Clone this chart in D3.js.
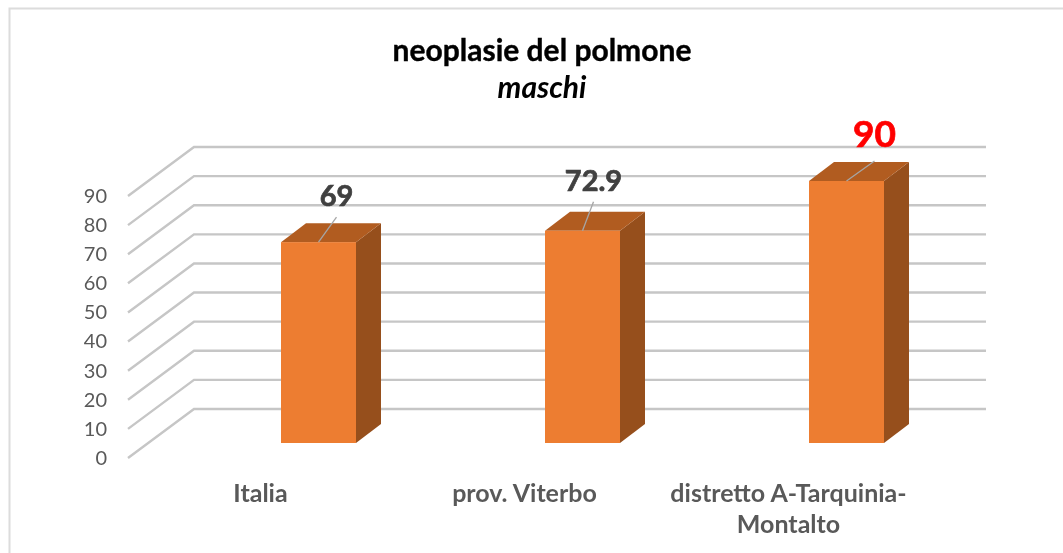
<!DOCTYPE html>
<html>
<head>
<meta charset="utf-8">
<script src="https://cdnjs.cloudflare.com/ajax/libs/d3/7.8.5/d3.min.js"></script>
<style>
  html, body { margin: 0; padding: 0; background: #fff; }
  svg { display: block; filter: blur(0.4px); }
  text { font-family: Lato, "Open Sans", sans-serif; }
</style>
</head>
<body>
<div id="maindiv"></div>
<script>
  ///
  /// Data
  ///
  const categories = ["Italia", "prov. Viterbo", "distretto A-Tarquinia-\nMontalto"];
  const values = [69, 72.9, 90];
  const valueLabels = ["69", "72.9", "90"];
  const yTicks = [0, 10, 20, 30, 40, 50, 60, 70, 80, 90];

  ///
  /// Layout
  ///
  const width = 1063, height = 553;
  const wallDx = 66, wallDy = -49;    // floor depth, front edge to back wall
  const barDx = 25, barDy = -19;      // bar depth
  const floorDy = -15;                // bar front face, from the front edge
  const barWidth = 75;
  const gridRight = 986;

  // where each label sits, relative to the middle of the bar's top front edge
  const labelDx = [18, 11, 28];
  const labelTop = [-25, -29, -20];
  const labelBaseline = [-36, -40, -34];
  const labelSize = [29, 29, 37];
  const labelFill = ["#404040", "#404040", "#ff0000"];

  var svg = d3.select("#maindiv").append("svg")
    .attr("width", width)
    .attr("height", height);

  var y = d3.scaleLinear().domain([0, 90]).range([458, 196]);
  var x = d3.scaleBand().domain(categories).range([186.5, 978.5]);

  ///
  /// Frame
  ///
  svg.append("path")
    .attr("d", `M9.5,${height} V8.5 H${width}`)
    .attr("fill", "none")
    .attr("stroke", "#dcdcdc")
    .attr("stroke-width", 2);

  ///
  /// Grid
  ///
  svg.append("g").selectAll("path")
    .data(yTicks)
    .join("path")
    .attr("d", d => {
      var p = d3.path();
      p.moveTo(128, y(d));
      p.lineTo(128 + wallDx, y(d) + wallDy);
      p.lineTo(gridRight, y(d) + wallDy);
      return p.toString();
    })
    .attr("fill", "none")
    .attr("stroke", "#c6c6c6")
    .attr("stroke-width", 2.4);

  ///
  /// Axes
  ///
  var yAxis = svg.append("g")
    .attr("transform", "translate(107,0)")
    .call(d3.axisLeft(y).tickValues(yTicks).tickSize(0).tickPadding(0));
  yAxis.select(".domain").remove();
  yAxis.selectAll("text")
    .attr("font-size", 20)
    .attr("fill", "#595959")
    .style("font-family", "Lato, sans-serif");

  var xLabels = svg.append("g").selectAll("text")
    .data(categories)
    .join("text")
    .attr("text-anchor", "middle")
    .attr("font-size", 25)
    .attr("font-weight", 700)
    .attr("fill", "#595959");
  xLabels.each(function(d) {
    d3.select(this).selectAll("tspan")
      .data(d.split("\n"))
      .join("tspan")
      .attr("x", x(d) + x.bandwidth() / 2 - 58)
      .attr("y", (t, i) => 502 + i * 31)
      .text(t => t);
  });

  ///
  /// Bars
  ///
  var bars = svg.append("g").selectAll("g")
    .data(values)
    .join("g");

  const barLeft = i => x(categories[i]) + x.bandwidth() / 2 - barWidth / 2;
  const barTop = v => y(v) + floorDy;
  const base = y(0) + floorDy;

  bars.append("path")
    .attr("fill", "#964f1c")
    .attr("d", (v, i) => {
      var r = barLeft(i) + barWidth;
      return `M${r},${barTop(v)} l${barDx},${barDy} V${base + barDy} l${-barDx},${-barDy} Z`;
    });

  bars.append("path")
    .attr("fill", "#b15c20")
    .attr("d", (v, i) => {
      return `M${barLeft(i)},${barTop(v)} l${barDx},${barDy} h${barWidth} l${-barDx},${-barDy} Z`;
    });

  bars.append("rect")
    .attr("fill", "#ed7d31")
    .attr("x", (v, i) => barLeft(i))
    .attr("y", v => barTop(v))
    .attr("width", barWidth)
    .attr("height", v => base - barTop(v));

  ///
  /// Value labels and their leader lines
  ///
  bars.append("line")
    .attr("x1", (v, i) => barLeft(i) + barWidth / 2)
    .attr("y1", v => barTop(v))
    .attr("x2", (v, i) => barLeft(i) + barWidth / 2 + labelDx[i])
    .attr("y2", (v, i) => barTop(v) + labelTop[i])
    .attr("stroke", "#a6a6a6")
    .attr("stroke-width", 1.3);

  bars.append("text")
    .attr("x", (v, i) => barLeft(i) + barWidth / 2 + labelDx[i])
    .attr("y", (v, i) => barTop(v) + labelBaseline[i])
    .attr("text-anchor", "middle")
    .attr("font-weight", 700)
    .attr("font-size", (v, i) => labelSize[i])
    .attr("fill", (v, i) => labelFill[i])
    .attr("stroke", (v, i) => labelFill[i])
    .attr("stroke-width", 0.7)
    .text((v, i) => valueLabels[i]);

  ///
  /// Title
  ///
  svg.append("text")
    .attr("x", 542).attr("y", 61)
    .attr("text-anchor", "middle")
    .attr("font-size", 30)
    .attr("font-weight", 700)
    .attr("fill", "#000")
    .attr("stroke", "#000")
    .attr("stroke-width", 0.4)
    .text("neoplasie del polmone");

  svg.append("text")
    .attr("x", 542).attr("y", 98)
    .attr("text-anchor", "middle")
    .attr("font-size", 30)
    .attr("font-weight", 700)
    .attr("font-style", "italic")
    .attr("fill", "#000")
    .text("maschi");
</script>
</body>
</html>
